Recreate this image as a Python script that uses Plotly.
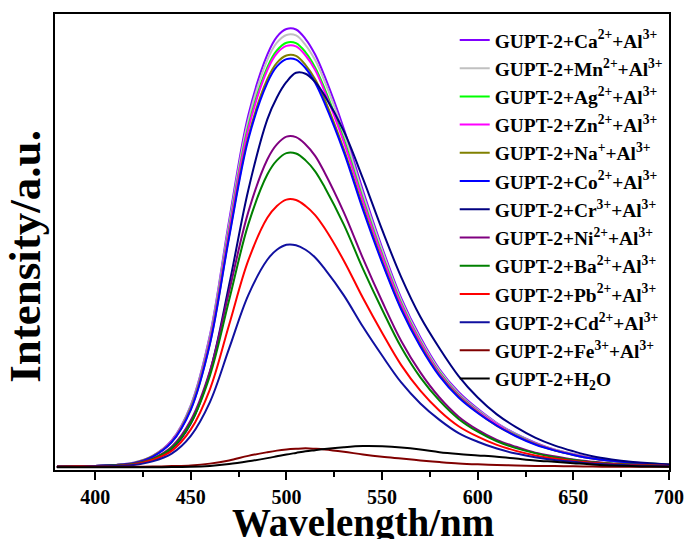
import plotly.graph_objects as go

wavelength = [380, 390, 400, 410, 420, 430, 440, 450, 460, 470, 480, 490, 495, 500, 505, 510, 515,
              520, 530, 540, 550, 560, 570, 580, 590, 600, 610, 620, 630, 640, 650, 660, 670,
              680, 690, 700]

ca = [0.7, 0.8, 0.9, 1.1, 1.6, 3.1, 6.5, 14.2, 29.6, 54.6, 77.7, 91.1, 95.0, 96.7, 96.6, 94.5, 91.1,
      86.3, 74.8, 61.3, 48.8, 37.7, 29.1, 22.1, 17.1, 13.4, 10.3, 7.9, 6.0, 4.5, 3.5, 2.6, 2.0,
      1.7, 1.4, 1.2]
mn = [0.7, 0.8, 0.9, 1.1, 1.6, 3.1, 6.4, 14.0, 29.2, 53.8, 76.6, 89.9, 93.7, 95.4, 95.3, 93.2, 89.9,
      85.2, 73.8, 60.5, 48.2, 37.2, 28.7, 21.8, 16.8, 13.2, 10.2, 7.8, 5.9, 4.5, 3.5, 2.6, 2.0,
      1.6, 1.4, 1.2]
ag = [0.7, 0.8, 0.9, 1.1, 1.5, 3.0, 6.3, 13.8, 28.7, 52.9, 75.3, 88.3, 92.0, 93.7, 93.6, 91.6, 88.3,
      83.6, 72.5, 59.4, 47.3, 36.6, 28.2, 21.4, 16.5, 13.0, 10.0, 7.7, 5.8, 4.4, 3.4, 2.6, 2.0,
      1.6, 1.4, 1.2]
zn = [0.7, 0.8, 0.9, 1.1, 1.5, 3.0, 6.3, 13.6, 28.5, 52.5, 74.7, 87.7, 91.4, 93.0, 92.9, 90.9, 87.7,
      83.0, 71.9, 59.0, 47.0, 36.3, 28.0, 21.2, 16.4, 12.9, 10.0, 7.6, 5.8, 4.4, 3.4, 2.6, 2.0,
      1.6, 1.3, 1.2]
na = [0.7, 0.8, 0.9, 1.1, 1.5, 3.0, 6.1, 13.4, 27.8, 51.3, 73.0, 85.7, 89.3, 90.9, 90.8, 88.8, 85.7,
      81.2, 70.3, 57.7, 45.9, 35.5, 27.4, 20.8, 16.1, 12.6, 9.7, 7.5, 5.7, 4.3, 3.3, 2.5, 2.0,
      1.6, 1.3, 1.2]
co = [0.7, 0.8, 0.9, 1.1, 1.5, 2.9, 6.1, 13.2, 27.6, 50.9, 72.4, 84.9, 88.5, 90.1, 90.0, 88.1, 84.9,
      80.4, 69.7, 57.1, 45.5, 35.2, 27.1, 20.6, 15.9, 12.5, 9.7, 7.4, 5.6, 4.3, 3.3, 2.5, 2.0,
      1.6, 1.3, 1.1]
cr = [0.7, 0.8, 0.9, 1.0, 1.3, 2.3, 4.6, 10.2, 21.5, 40.5, 61.3, 76.9, 81.7, 85.1, 87.1, 86.9, 85.1,
      82.1, 74.3, 63.9, 52.7, 42.3, 33.6, 26.7, 20.6, 15.9, 12.2, 9.4, 7.1, 5.4, 4.1, 3.0, 2.3,
      1.8, 1.5, 1.2]
ni = [0.7, 0.8, 0.8, 1.0, 1.4, 2.5, 5.1, 10.9, 21.7, 39.1, 56.5, 68.1, 71.4, 73.1, 73.0, 71.4, 68.9,
      65.2, 56.5, 46.4, 37.0, 28.3, 21.4, 15.9, 11.7, 8.8, 6.6, 5.1, 3.8, 3.0, 2.3, 1.8, 1.4,
      1.2, 1.1, 0.9]
ba = [0.7, 0.8, 0.8, 1.0, 1.3, 2.4, 4.8, 10.3, 20.7, 37.2, 53.8, 64.8, 67.9, 69.5, 69.4, 67.9, 65.5,
      62.0, 53.8, 44.1, 35.2, 26.9, 20.3, 15.2, 11.2, 8.4, 6.3, 4.8, 3.7, 2.8, 2.2, 1.7, 1.4,
      1.2, 1.0, 0.9]
pb = [0.7, 0.8, 0.8, 0.9, 1.2, 2.2, 4.2, 8.9, 17.7, 31.8, 45.9, 55.3, 57.9, 59.3, 59.2, 57.9, 55.9,
      53.0, 45.9, 37.7, 30.1, 23.0, 17.4, 13.0, 9.6, 7.3, 5.5, 4.2, 3.2, 2.5, 2.0, 1.6, 1.3,
      1.1, 1.0, 0.9]
cd = [0.7, 0.7, 0.8, 0.9, 1.1, 1.9, 3.6, 7.5, 14.9, 26.6, 38.3, 46.1, 48.3, 49.4, 49.3, 48.3, 46.6,
      44.1, 38.3, 31.4, 25.1, 19.2, 14.6, 11.0, 8.1, 6.2, 4.7, 3.6, 2.8, 2.2, 1.8, 1.4, 1.2,
      1.0, 0.9, 0.8]
fe = [0.7, 0.7, 0.7, 0.7, 0.7, 0.75, 0.85, 1.0, 1.4, 2.1, 3.1, 3.9, 4.25, 4.5, 4.65, 4.75, 4.65,
      4.5, 4.0, 3.4, 2.9, 2.5, 2.1, 1.75, 1.45, 1.25, 1.1, 1.0, 0.9, 0.85, 0.8, 0.75, 0.72,
      0.7, 0.7, 0.7]
h2o = [0.6, 0.6, 0.6, 0.6, 0.6, 0.6, 0.65, 0.7, 0.9, 1.3, 1.9, 2.6, 3.0, 3.4, 3.75, 4.1, 4.35,
       4.6, 5.0, 5.25, 5.2, 4.95, 4.5, 3.9, 3.5, 3.2, 2.9, 2.5, 2.1, 1.8, 1.5, 1.2, 1.0,
       0.85, 0.75, 0.7]

names = [
    "GUPT-2+Ca<sup>2+</sup>+Al<sup>3+</sup>",
    "GUPT-2+Mn<sup>2+</sup>+Al<sup>3+</sup>",
    "GUPT-2+Ag<sup>2+</sup>+Al<sup>3+</sup>",
    "GUPT-2+Zn<sup>2+</sup>+Al<sup>3+</sup>",
    "GUPT-2+Na<sup>+</sup>+Al<sup>3+</sup>",
    "GUPT-2+Co<sup>2+</sup>+Al<sup>3+</sup>",
    "GUPT-2+Cr<sup>3+</sup>+Al<sup>3+</sup>",
    "GUPT-2+Ni<sup>2+</sup>+Al<sup>3+</sup>",
    "GUPT-2+Ba<sup>2+</sup>+Al<sup>3+</sup>",
    "GUPT-2+Pb<sup>2+</sup>+Al<sup>3+</sup>",
    "GUPT-2+Cd<sup>2+</sup>+Al<sup>3+</sup>",
    "GUPT-2+Fe<sup>3+</sup>+Al<sup>3+</sup>",
    "GUPT-2+H<sub>2</sub>O",
]
series = [ca, mn, ag, zn, na, co, cr, ni, ba, pb, cd, fe, h2o]
colors = ["#8000FF", "#C0C0C0", "#00FF00", "#FF00FF", "#808000", "#0000FF", "#000080",
          "#800080", "#008000", "#FF0000", "#1010A0", "#800000", "#000000"]

tick_vals = [400, 450, 500, 550, 600, 650, 700]

fig = go.Figure()
for name, ys, col in zip(names, series, colors):
    fig.add_trace(go.Scatter(x=wavelength, y=ys, mode="lines", name="<b>" + name + "</b>",
                             line=dict(color=col, width=2, shape="spline", smoothing=1.0)))

font_family = "Liberation Serif"
fig.update_layout(
    width=688, height=539,
    margin=dict(l=55, r=19, t=14, b=69, autoexpand=False),
    paper_bgcolor="white", plot_bgcolor="white",
    font=dict(family=font_family, color="black"),
    showlegend=True,
    legend=dict(x=0.651, y=0.985, xanchor="left", yanchor="top",
                bgcolor="rgba(0,0,0,0)", borderwidth=0,
                font=dict(family=font_family, size=19.4, color="black"),
                itemwidth=30, tracegroupgap=0),
    xaxis=dict(range=[379, 700], tickvals=tick_vals, ticktext=[f"<b>{v}</b>" for v in tick_vals],
               ticks="outside", ticklen=8, tickwidth=2, tickcolor="black",
               minor=dict(ticks="outside", ticklen=5, tickwidth=1.5, tickcolor="black",
                          tick0=375, dtick=25),
               showline=True, linewidth=2, linecolor="black", mirror=True,
               showgrid=False, zeroline=False, automargin=False,
               tickfont=dict(family=font_family, size=20, color="black")),
    yaxis=dict(range=[0, 100], showticklabels=False, ticks="",
               showline=True, linewidth=2, linecolor="black", mirror=True,
               showgrid=False, zeroline=False, automargin=False),
    annotations=[
        dict(text="<b>Wavelength/nm</b>", xref="paper", yref="paper", x=0.502, y=-0.116,
             xanchor="center", yanchor="middle", showarrow=False,
             font=dict(family=font_family, size=39, color="black")),
        dict(text="<b>Intensity/a.u.</b>", xref="paper", yref="paper", x=-0.048, y=0.469,
             xanchor="center", yanchor="middle", showarrow=False, textangle=-90,
             font=dict(family=font_family, size=45, color="black")),
    ],
)

fig.write_html("out.html")
